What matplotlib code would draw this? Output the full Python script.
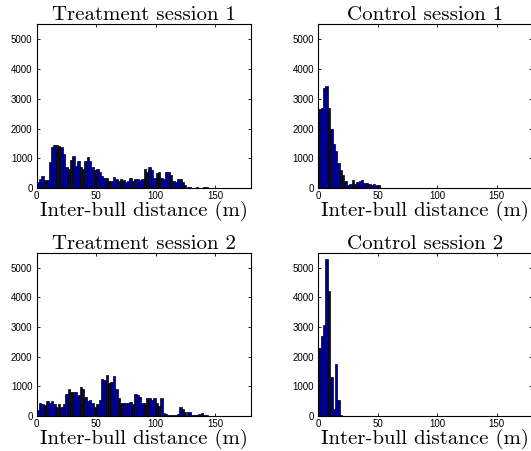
import numpy as np
import matplotlib.pyplot as plt

# =========================
# Histogram counts (2 m bins, 0-180 m)
# =========================
bin_edges = np.arange(0, 182, 2)

treat1 = [200, 300, 400, 280, 280, 880, 1380, 1460, 1440, 1420,
          1380, 1150, 700, 650, 950, 1100, 750, 900, 700, 650,
          900, 1050, 900, 700, 600, 650, 550, 400, 350, 350,
          250, 250, 380, 300, 250, 300, 280, 200, 250, 350,
          250, 300, 300, 280, 300, 650, 550, 700, 600, 350,
          500, 550, 350, 300, 550, 550, 450, 250, 200, 300,
          300, 200, 100, 50, 30, 20, 20, 30, 20, 20,
          30, 40, 20, 15, 10, 10, 15, 10, 10, 10,
          10, 5, 5, 10, 5, 5, 5, 5, 5, 5]

control1 = [2650, 2700, 3380, 3420, 2700, 2000, 1500, 1250, 850, 600,
            450, 250, 120, 150, 280, 150, 200, 260, 290, 180,
            170, 150, 120, 160, 100, 120, 10, 5, 5, 5,
            5, 5, 5, 5, 5, 5, 5, 5, 5, 5,
            5, 5, 5, 5, 5, 5, 5, 5, 5, 5,
            5, 5, 5, 5, 5, 5, 5, 5, 5, 5,
            5, 5, 5, 5, 5, 5, 5, 5, 5, 5,
            5, 5, 5, 5, 5, 5, 5, 5, 5, 5,
            5, 5, 5, 5, 5, 5, 5, 5, 5, 5]

treat2 = [200, 450, 400, 380, 500, 450, 500, 420, 300, 400,
          300, 400, 750, 900, 800, 800, 800, 700, 980, 900,
          650, 500, 550, 450, 300, 400, 550, 1250, 1200, 1380,
          1100, 1150, 1350, 900, 600, 450, 450, 450, 450, 480,
          400, 750, 700, 650, 450, 450, 600, 600, 550, 600,
          450, 350, 600, 100, 60, 40, 50, 40, 30, 80,
          300, 250, 120, 150, 150, 30, 50, 40, 70, 100,
          20, 20, 15, 10, 10, 15, 10, 10, 10, 5,
          5, 5, 5, 5, 5, 5, 5, 5, 5, 5]

control2 = [2300, 2700, 3050, 5300, 4200, 1300, 250, 1750, 550, 20,
            10, 5, 5, 5, 5, 5, 5, 5, 5, 5,
            5, 5, 5, 5, 5, 5, 5, 5, 5, 5,
            5, 5, 5, 5, 5, 5, 5, 5, 5, 5,
            5, 5, 5, 5, 5, 5, 5, 5, 5, 5,
            5, 5, 5, 5, 5, 5, 5, 5, 5, 5,
            5, 5, 5, 5, 5, 5, 5, 5, 5, 5,
            5, 5, 5, 5, 5, 5, 5, 5, 5, 5,
            5, 5, 5, 5, 5, 5, 5, 5, 5, 5]

titles = ["Treatment session 1", "Control session 1",
          "Treatment session 2", "Control session 2"]
series = [treat1, control1, treat2, control2]

# axes rectangles in figure fractions (left, bottom, width, height)
W, H = 531, 451
rects = [
    (36.7 / W, (H - 188.3) / H, 214 / W, 164 / H),
    (318.3 / W, (H - 188.3) / H, 214 / W, 164 / H),
    (36.7 / W, (H - 416.0) / H, 214 / W, 163.3 / H),
    (318.3 / W, (H - 416.0) / H, 214 / W, 163.3 / H),
]

fig = plt.figure(figsize=(W / 100, H / 100), dpi=100)

for rect, title, counts in zip(rects, titles, series):
    ax = fig.add_axes(rect)
    ax.bar(bin_edges[:-1], counts, width=2, align="edge",
           color="#000090", edgecolor="black", linewidth=0.5)
    ax.set_xlim(0, 180)
    ax.set_ylim(0, 5500)
    ax.set_xticks([0, 50, 100, 150])
    ax.set_yticks([0, 1000, 2000, 3000, 4000, 5000])
    ax.tick_params(direction="in", length=2.5, width=0.6,
                   top=True, right=True, labelsize=7, pad=3)
    ax.tick_params(axis="x", pad=2)
    for lbl in ax.get_xticklabels() + ax.get_yticklabels():
        lbl.set_family("Liberation Sans")
    for sp in ax.spines.values():
        sp.set_linewidth(0.8)
    ax.set_title(title, family="cmr10", fontsize=15, pad=3)
    ax.set_xlabel("Inter-bull distance (m)", family="cmr10",
                  fontsize=15, labelpad=0)

fig.savefig("out.png", dpi=100)
